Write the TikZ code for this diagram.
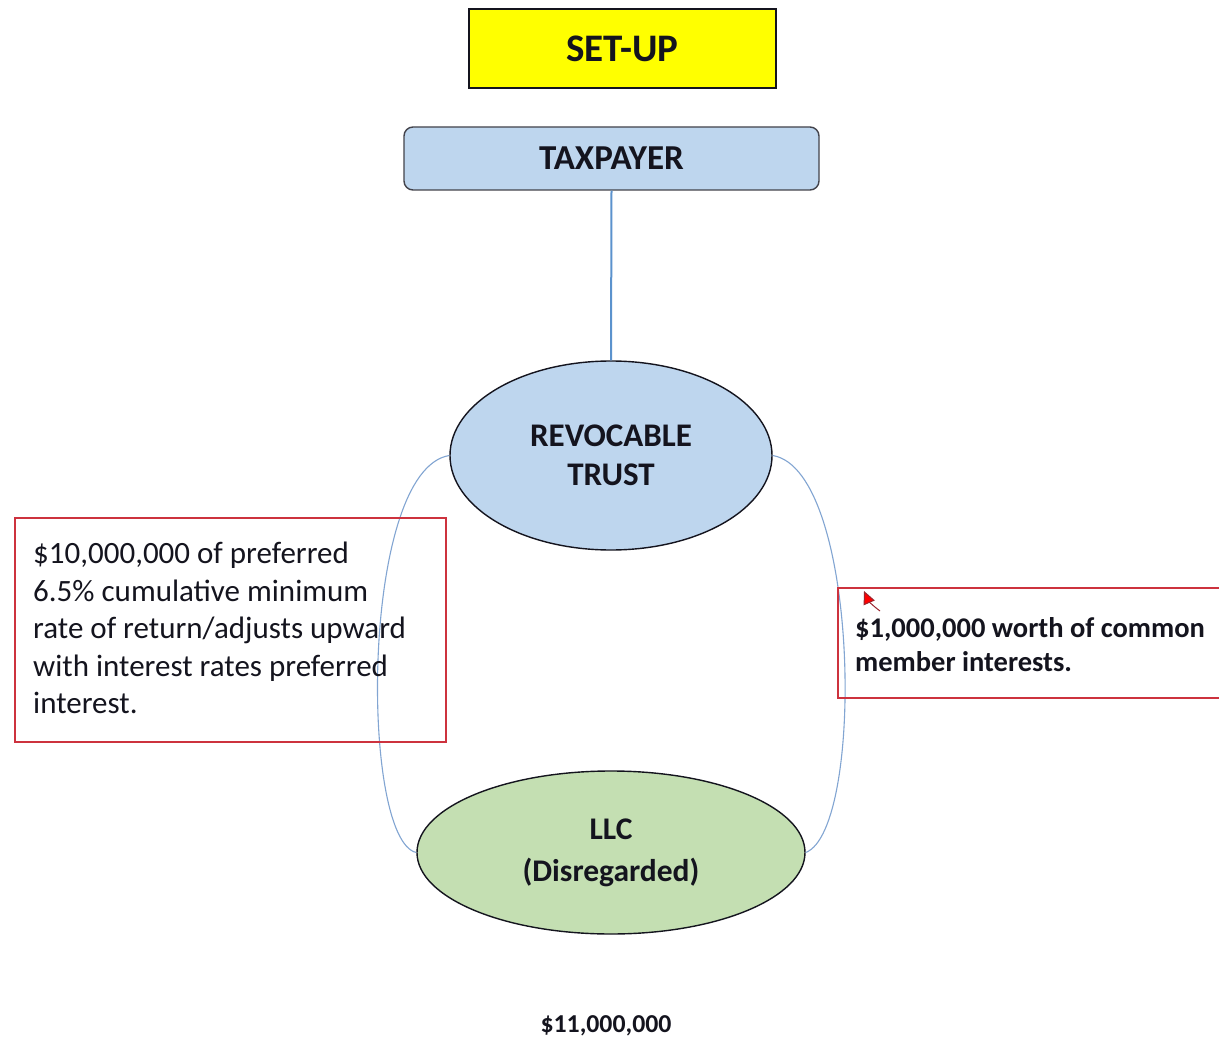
\documentclass[tikz,border=0pt]{standalone}
\usepackage{fontspec}
\setmainfont{Carlito}
\usetikzlibrary{shapes.geometric,arrows.meta}
\definecolor{hdryellow}{RGB}{255,255,0}
\definecolor{boxblue}{RGB}{190,214,238}
\definecolor{boxgreen}{RGB}{196,223,178}
\definecolor{linkblue}{RGB}{91,146,205}
\definecolor{curveblue}{RGB}{130,165,210}
\definecolor{notered}{RGB}{205,50,62}
\definecolor{inkdark}{RGB}{20,20,30}
\tikzset{
  px/.style={x=1pt,y=-1pt},
  title/.style={draw=inkdark,line width=1.2pt,fill=hdryellow,minimum width=307pt,minimum height=79pt,
    font=\fontsize{39}{44}\selectfont\bfseries,text=inkdark},
  entity/.style={draw=inkdark!80,line width=1.4pt,fill=boxblue,rounded corners=9pt,minimum width=415pt,minimum height=63pt,
    font=\fontsize{35}{40}\selectfont\bfseries,text=inkdark},
  oval/.style={ellipse,draw=inkdark,line width=1.4pt,inner sep=0pt,align=center,text=inkdark},
  notebox/.style={draw=notered,line width=1.8pt,anchor=north west,inner sep=0pt},
  note/.style={align=left,anchor=north west,inner sep=0pt,text=inkdark},
  link/.style={draw=linkblue,line width=2pt},
  tie/.style={draw=curveblue,line width=1.1pt},
}
\begin{document}
\begin{tikzpicture}[px]
\useasboundingbox (0,0) rectangle (1219,1038);
\fill[white] (0,0) rectangle (1219,1038);

% header and top-level owner
\node[title] (setup) at (622.5,48.5) {SET-UP};
\node[entity] (taxpayer) at (611.5,158.5) {TAXPAYER};

% entities
\node[oval,fill=boxblue,minimum width=322pt,minimum height=189pt,
  font=\fontsize{33}{39.5}\selectfont\bfseries] (trust) at (611,455.5) {REVOCABLE\\TRUST};
\node[oval,fill=boxgreen,minimum width=388pt,minimum height=163pt,
  font=\fontsize{31.5}{42}\selectfont\bfseries] (llc) at (611,852.5) {LLC\\(Disregarded)};

% ownership links
\draw[link] (taxpayer.south) -- (trust.north);
\draw[tie] (trust.west) .. controls (360,470) and (360,840) .. (llc.west);
\draw[tie] (trust.east) .. controls (860,470) and (865,830) .. (llc.east);

% explanatory notes
\node[notebox,minimum width=431pt,minimum height=224pt] (prefbox) at (14,517) {};
\node[note,font=\fontsize{31}{37.5}\selectfont] (pref) at (33,542)
  {\$10,000,000 of preferred\\6.5\% cumulative minimum\\rate of return/adjusts upward\\with interest rates preferred\\interest.};
\node[notebox,minimum width=390pt,minimum height=110pt] (commonbox) at (837,587) {};
\node[note,font=\fontsize{28.5}{34}\selectfont\bfseries] (common) at (855,617)
  {\$1,000,000 worth of common\\member interests.};

% small pointer above the common-interest note
\coordinate (ptrstart) at (880,611);
\coordinate (ptrtip) at (864,591);
\draw[draw=notered!75!black,line width=1pt,-{Triangle[length=13pt,width=12pt,fill=red]}] (ptrstart) to[bend left=15] (ptrtip);

% total
\node[font=\fontsize{25.8}{30}\selectfont\bfseries,text=inkdark] (total) at (606,1026) {\$11,000,000};
\end{tikzpicture}
\end{document}
